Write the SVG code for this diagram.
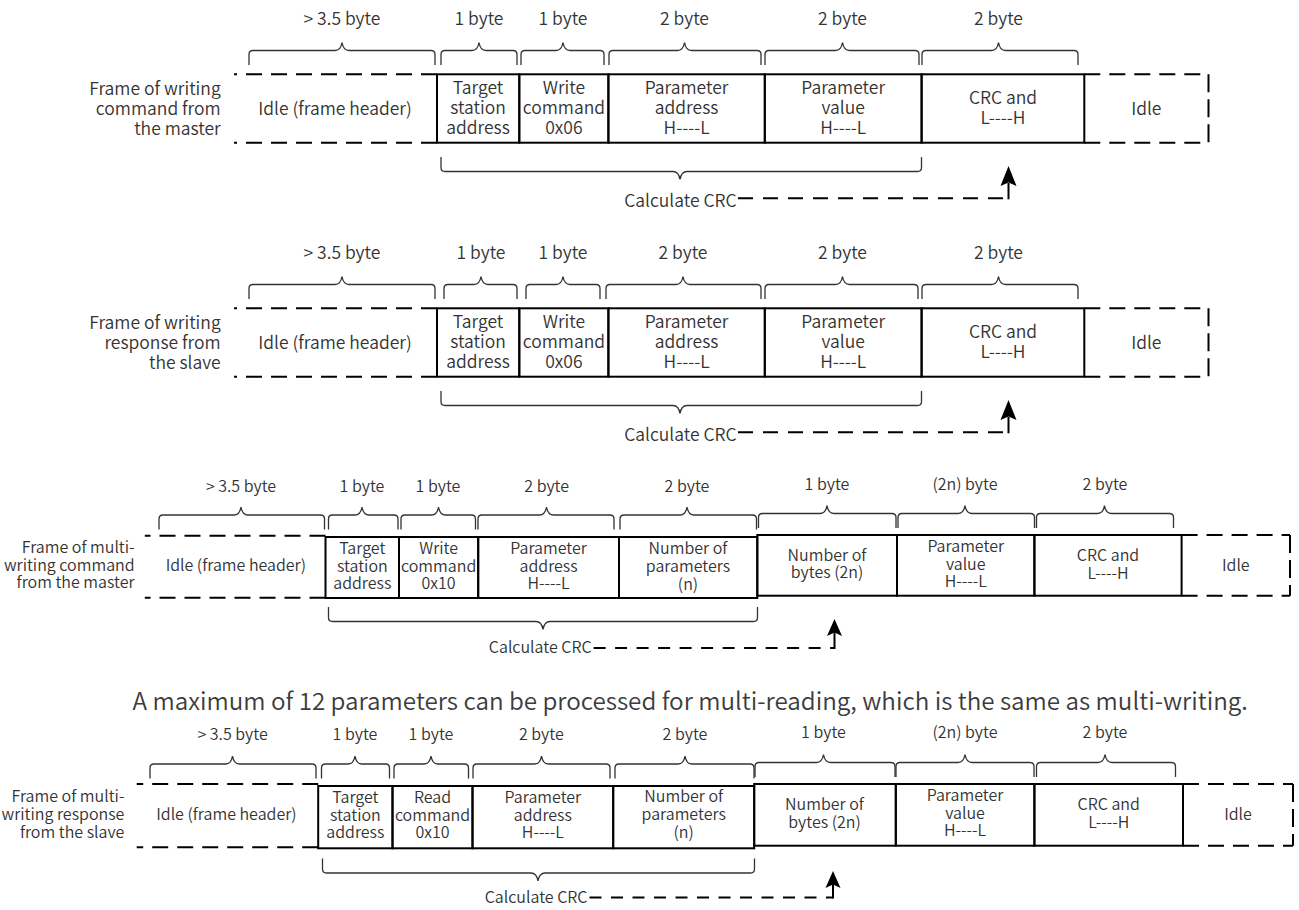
<svg xmlns="http://www.w3.org/2000/svg" width="1299" height="910" viewBox="0 0 1299 910">
<style>
text{font-family:"Noto Sans CJK SC","Noto Sans",sans-serif;fill:#333;font-weight:350}
.f1{font-size:17.5px}
.f3{font-size:16px}
.note{font-size:24.2px;fill:#3c3c3c}
.c{text-anchor:middle}
.r{text-anchor:end}
.box{fill:none;stroke:#000;stroke-width:2}
.dash{fill:none;stroke:#000;stroke-width:2;stroke-dasharray:16 9}
.vdash{fill:none;stroke:#000;stroke-width:2;stroke-dasharray:18 7}
.brace{fill:none;stroke:#333;stroke-width:1.3}
.calc{fill:none;stroke:#000;stroke-width:2;stroke-dasharray:15 10}
.calc3{fill:none;stroke:#000;stroke-width:2;stroke-dasharray:12 9.5}
.shaft{stroke:#000;stroke-width:2}
.head{fill:#000}
</style>

<!-- Frame 1 -->
<g id="frame1">
  <text class="f1 r"><tspan x="220.7" y="95">Frame of writing</tspan><tspan x="220.7" y="115">command from</tspan><tspan x="220.7" y="135">the master</tspan></text>
  <g id="f1-header">
    <path class="brace" d="M249,65 v-10.5 q0,-4 4,-4 h82 c4,0 6,-2 7,-8 c1,6 3,8 7,8 h82 q4,0 4,4 v10.5"/>
    <text class="f1 c" x="342" y="25">&gt; 3.5 byte</text>
    <path class="dash" d="M437,74.3 H234 M437,142.7 H234"/>
    <text class="f1 c" x="335" y="115">Idle (frame header)</text>
  </g>
  <g id="f1-target">
    <path class="brace" d="M441,65 v-10.5 q0,-4 4,-4 h27 c4,0 6,-2 7,-8 c1,6 3,8 7,8 h27 q4,0 4,4 v10.5"/>
    <text class="f1 c" x="479" y="25">1 byte</text>
    <rect class="box" x="437" y="74.3" width="82.3" height="68.4"/>
    <text class="f1 c"><tspan x="478" y="94">Target</tspan><tspan x="478" y="114.3">station</tspan><tspan x="478" y="134.3">address</tspan></text>
  </g>
  <g id="f1-write">
    <path class="brace" d="M521,65 v-10.5 q0,-4 4,-4 h31 c4,0 6,-2 7,-8 c1,6 3,8 7,8 h30 q4,0 4,4 v10.5"/>
    <text class="f1 c" x="563" y="25">1 byte</text>
    <rect class="box" x="519.3" y="74.3" width="89.1" height="68.4"/>
    <text class="f1 c"><tspan x="563.9" y="94">Write</tspan><tspan x="563.9" y="114.3">command</tspan><tspan x="563.9" y="134.3">0x06</tspan></text>
  </g>
  <g id="f1-paddr">
    <path class="brace" d="M609,65 v-10.5 q0,-4 4,-4 h64.5 c4,0 6,-2 7,-8 c1,6 3,8 7,8 h65.5 q4,0 4,4 v10.5"/>
    <text class="f1 c" x="684.5" y="25">2 byte</text>
    <rect class="box" x="608.4" y="74.3" width="156.4" height="68.4"/>
    <text class="f1 c"><tspan x="686.6" y="94">Parameter</tspan><tspan x="686.6" y="114.3">address</tspan><tspan x="686.6" y="134.3">H----L</tspan></text>
  </g>
  <g id="f1-pvalue">
    <path class="brace" d="M765,65 v-10.5 q0,-4 4,-4 h66.5 c4,0 6,-2 7,-8 c1,6 3,8 7,8 h65.5 q4,0 4,4 v10.5"/>
    <text class="f1 c" x="842.5" y="25">2 byte</text>
    <rect class="box" x="764.8" y="74.3" width="156.8" height="68.4"/>
    <text class="f1 c"><tspan x="843.2" y="94">Parameter</tspan><tspan x="843.2" y="114.3">value</tspan><tspan x="843.2" y="134.3">H----L</tspan></text>
  </g>
  <g id="f1-crc">
    <path class="brace" d="M922,65 v-10.5 q0,-4 4,-4 h65.5 c4,0 6,-2 7,-8 c1,6 3,8 7,8 h68.5 q4,0 4,4 v10.5"/>
    <text class="f1 c" x="998.5" y="25">2 byte</text>
    <rect class="box" x="921.6" y="74.3" width="162.7" height="68.4"/>
    <text class="f1 c"><tspan x="1003" y="104">CRC and</tspan><tspan x="1003" y="124">L----H</tspan></text>
  </g>
  <g id="f1-idle">
    <path class="dash" d="M1084.3,74.3 H1208.5 M1084.3,142.7 H1208.5"/>
    <path class="vdash" d="M1208.5,74.3 V142.7"/>
    <text class="f1 c" x="1146.3" y="115">Idle</text>
  </g>
  <g id="f1-calc">
    <path class="brace" d="M441,157 v10.5 q0,4 4,4 h228 c4,0 6,2 7,8 c1,-6 3,-8 7,-8 h230.5 q4,0 4,-4 v-10.5"/>
    <text class="f1 r" x="736.6" y="206.7">Calculate CRC</text>
  </g>
</g>

<!-- Frame 2 -->
<g id="frame2" transform="translate(0,234)">
  <text class="f1 r"><tspan x="220.7" y="95">Frame of writing</tspan><tspan x="220.7" y="115">response from</tspan><tspan x="220.7" y="135">the slave</tspan></text>
  <g id="f2-header">
    <path class="brace" d="M249,65 v-10.5 q0,-4 4,-4 h82 c4,0 6,-2 7,-8 c1,6 3,8 7,8 h82 q4,0 4,4 v10.5"/>
    <text class="f1 c" x="342" y="25">&gt; 3.5 byte</text>
    <path class="dash" d="M437,74.3 H234 M437,142.7 H234"/>
    <text class="f1 c" x="335" y="115">Idle (frame header)</text>
  </g>
  <g id="f2-target">
    <path class="brace" d="M444,65 v-10.5 q0,-4 4,-4 h26 c4,0 6,-2 7,-8 c1,6 3,8 7,8 h25 q4,0 4,4 v10.5"/>
    <text class="f1 c" x="481" y="25">1 byte</text>
    <rect class="box" x="437" y="74.3" width="82.3" height="68.4"/>
    <text class="f1 c"><tspan x="478" y="94">Target</tspan><tspan x="478" y="114.3">station</tspan><tspan x="478" y="134.3">address</tspan></text>
  </g>
  <g id="f2-write">
    <path class="brace" d="M526,65 v-10.5 q0,-4 4,-4 h26 c4,0 6,-2 7,-8 c1,6 3,8 7,8 h26 q4,0 4,4 v10.5"/>
    <text class="f1 c" x="563" y="25">1 byte</text>
    <rect class="box" x="519.3" y="74.3" width="89.1" height="68.4"/>
    <text class="f1 c"><tspan x="563.9" y="94">Write</tspan><tspan x="563.9" y="114.3">command</tspan><tspan x="563.9" y="134.3">0x06</tspan></text>
  </g>
  <g id="f2-paddr">
    <path class="brace" d="M606,65 v-10.5 q0,-4 4,-4 h66 c4,0 6,-2 7,-8 c1,6 3,8 7,8 h67 q4,0 4,4 v10.5"/>
    <text class="f1 c" x="683" y="25">2 byte</text>
    <rect class="box" x="608.4" y="74.3" width="156.4" height="68.4"/>
    <text class="f1 c"><tspan x="686.6" y="94">Parameter</tspan><tspan x="686.6" y="114.3">address</tspan><tspan x="686.6" y="134.3">H----L</tspan></text>
  </g>
  <g id="f2-pvalue">
    <path class="brace" d="M765,65 v-10.5 q0,-4 4,-4 h66.5 c4,0 6,-2 7,-8 c1,6 3,8 7,8 h64.5 q4,0 4,4 v10.5"/>
    <text class="f1 c" x="842.5" y="25">2 byte</text>
    <rect class="box" x="764.8" y="74.3" width="156.8" height="68.4"/>
    <text class="f1 c"><tspan x="843.2" y="94">Parameter</tspan><tspan x="843.2" y="114.3">value</tspan><tspan x="843.2" y="134.3">H----L</tspan></text>
  </g>
  <g id="f2-crc">
    <path class="brace" d="M922,65 v-10.5 q0,-4 4,-4 h65.5 c4,0 6,-2 7,-8 c1,6 3,8 7,8 h68.5 q4,0 4,4 v10.5"/>
    <text class="f1 c" x="998.5" y="25">2 byte</text>
    <rect class="box" x="921.6" y="74.3" width="162.7" height="68.4"/>
    <text class="f1 c"><tspan x="1003" y="104">CRC and</tspan><tspan x="1003" y="124">L----H</tspan></text>
  </g>
  <g id="f2-idle">
    <path class="dash" d="M1084.3,74.3 H1208.5 M1084.3,142.7 H1208.5"/>
    <path class="vdash" d="M1208.5,74.3 V142.7"/>
    <text class="f1 c" x="1146.3" y="115">Idle</text>
  </g>
  <g id="f2-calc">
    <path class="brace" d="M441,157 v10.5 q0,4 4,4 h228 c4,0 6,2 7,8 c1,-6 3,-8 7,-8 h230.5 q4,0 4,-4 v-10.5"/>
    <text class="f1 r" x="736.6" y="206.7">Calculate CRC</text>
  </g>
</g>

<!-- Frame 3 -->
<g id="frame3">
  <text class="f3 r"><tspan x="134.6" y="553.3">Frame of multi-</tspan><tspan x="134.6" y="570.7">writing command</tspan><tspan x="134.6" y="588.3">from the master</tspan></text>
  <g id="f3-header">
    <path class="brace" d="M159,529.5 v-10.5 q0,-4 4,-4 h71 c4,0 6,-2 7,-8 c1,6 3,8 7,8 h72.5 q4,0 4,4 v10.5"/>
    <text class="f3 c" x="241" y="491.7">&gt; 3.5 byte</text>
    <path class="dash" d="M325.5,535.7 H144.8 M325.5,597.7 H144.8"/>
    <text class="f3 c" x="235.8" y="570.7">Idle (frame header)</text>
  </g>
  <g id="f3-target">
    <path class="brace" d="M328.5,529.5 v-10.5 q0,-4 4,-4 h22.5 c4,0 6,-2 7,-8 c1,6 3,8 7,8 h25 q4,0 4,4 v10.5"/>
    <text class="f3 c" x="362" y="491.7">1 byte</text>
    <rect class="box" x="325.5" y="537" width="73.5" height="61"/>
    <text class="f3 c"><tspan x="362.3" y="554">Target</tspan><tspan x="362.3" y="571.5">station</tspan><tspan x="362.3" y="589">address</tspan></text>
  </g>
  <g id="f3-write">
    <path class="brace" d="M401,529.5 v-10.5 q0,-4 4,-4 h26.5 c4,0 6,-2 7,-8 c1,6 3,8 7,8 h26 q4,0 4,4 v10.5"/>
    <text class="f3 c" x="438" y="491.7">1 byte</text>
    <rect class="box" x="399" y="537" width="79.2" height="61"/>
    <text class="f3 c"><tspan x="438.6" y="554">Write</tspan><tspan x="438.6" y="571.5">command</tspan><tspan x="438.6" y="589">0x10</tspan></text>
  </g>
  <g id="f3-paddr">
    <path class="brace" d="M478,529.5 v-10.5 q0,-4 4,-4 h57.5 c4,0 6,-2 7,-8 c1,6 3,8 7,8 h56.5 q4,0 4,4 v10.5"/>
    <text class="f3 c" x="546.7" y="491.7">2 byte</text>
    <rect class="box" x="478.2" y="537" width="140.8" height="61"/>
    <text class="f3 c"><tspan x="548.6" y="554">Parameter</tspan><tspan x="548.6" y="571.5">address</tspan><tspan x="548.6" y="589">H----L</tspan></text>
  </g>
  <g id="f3-nparams">
    <path class="brace" d="M620,529.5 v-10.5 q0,-4 4,-4 h56 c4,0 6,-2 7,-8 c1,6 3,8 7,8 h58.5 q4,0 4,4 v10.5"/>
    <text class="f3 c" x="687" y="491.7">2 byte</text>
    <rect class="box" x="619" y="537" width="138.3" height="61"/>
    <text class="f3 c"><tspan x="688" y="554">Number of</tspan><tspan x="688" y="571.5">parameters</tspan><tspan x="688" y="589.5">(n)</tspan></text>
  </g>
  <g id="f3-nbytes">
    <path class="brace" d="M758.5,528 v-10.5 q0,-4 4,-4 h57.5 c4,0 6,-2 7,-8 c1,6 3,8 7,8 h58 q4,0 4,4 v10.5"/>
    <text class="f3 c" x="827" y="490">1 byte</text>
    <rect class="box" x="757.3" y="535" width="139.7" height="60.7"/>
    <text class="f3 c"><tspan x="827" y="561">Number of</tspan><tspan x="827" y="578">bytes (2n)</tspan></text>
  </g>
  <g id="f3-pvalue">
    <path class="brace" d="M898,528 v-10.5 q0,-4 4,-4 h56 c4,0 6,-2 7,-8 c1,6 3,8 7,8 h58.5 q4,0 4,4 v10.5"/>
    <text class="f3 c" x="965" y="490">(2n) byte</text>
    <rect class="box" x="897" y="535" width="137.4" height="60.7"/>
    <text class="f3 c"><tspan x="965.7" y="552">Parameter</tspan><tspan x="965.7" y="569.5">value</tspan><tspan x="965.7" y="587">H----L</tspan></text>
  </g>
  <g id="f3-crc">
    <path class="brace" d="M1036.5,528 v-10.5 q0,-4 4,-4 h57 c4,0 6,-2 7,-8 c1,6 3,8 7,8 h58 q4,0 4,4 v10.5"/>
    <text class="f3 c" x="1105" y="490">2 byte</text>
    <rect class="box" x="1034.4" y="535" width="147.2" height="60.7"/>
    <text class="f3 c"><tspan x="1108" y="561">CRC and</tspan><tspan x="1108" y="579">L----H</tspan></text>
  </g>
  <g id="f3-idle">
    <path class="dash" d="M1181.6,535 H1290 M1181.6,595.7 H1290"/>
    <path class="vdash" d="M1290,535 V595.7"/>
    <text class="f3 c" x="1235.8" y="570.7">Idle</text>
  </g>
  <g id="f3-calc">
    <path class="brace" d="M328.5,607 v10.5 q0,4 4,4 h203.5 c4,0 6,2 7,8 c1,-6 3,-8 7,-8 h203.5 q4,0 4,-4 v-10.5"/>
    <text class="f3 r" x="591.6" y="653.3">Calculate CRC</text>
  </g>
</g>

<text id="note" class="note" x="132.6" y="710">A maximum of 12 parameters can be processed for multi-reading, which is the same as multi-writing.</text>

<!-- Frame 4 -->
<g id="frame4">
  <text class="f3 r"><tspan x="124.4" y="801.7">Frame of multi-</tspan><tspan x="124.4" y="820">writing response</tspan><tspan x="124.4" y="837.7">from the slave</tspan></text>
  <g id="f4-header">
    <path class="brace" d="M150,778.5 v-10.5 q0,-4 4,-4 h71.5 c4,0 6,-2 7,-8 c1,6 3,8 7,8 h72.5 q4,0 4,4 v10.5"/>
    <text class="f3 c" x="232.6" y="740">&gt; 3.5 byte</text>
    <path class="dash" d="M318.2,784 H136.7 M318.2,847.3 H136.7"/>
    <text class="f3 c" x="226.4" y="820">Idle (frame header)</text>
  </g>
  <g id="f4-target">
    <path class="brace" d="M321.5,778.5 v-10.5 q0,-4 4,-4 h22.5 c4,0 6,-2 7,-8 c1,6 3,8 7,8 h23.5 q4,0 4,4 v10.5"/>
    <text class="f3 c" x="355" y="740">1 byte</text>
    <rect class="box" x="318.2" y="786" width="74.3" height="62.3"/>
    <text class="f3 c"><tspan x="355.4" y="803">Target</tspan><tspan x="355.4" y="820.5">station</tspan><tspan x="355.4" y="838">address</tspan></text>
  </g>
  <g id="f4-read">
    <path class="brace" d="M394,778.5 v-10.5 q0,-4 4,-4 h26 c4,0 6,-2 7,-8 c1,6 3,8 7,8 h26.5 q4,0 4,4 v10.5"/>
    <text class="f3 c" x="431" y="740">1 byte</text>
    <rect class="box" x="392.5" y="786" width="80" height="62.3"/>
    <text class="f3 c"><tspan x="432.5" y="803">Read</tspan><tspan x="432.5" y="820.5">command</tspan><tspan x="432.5" y="838">0x10</tspan></text>
  </g>
  <g id="f4-paddr">
    <path class="brace" d="M473,778.5 v-10.5 q0,-4 4,-4 h57.5 c4,0 6,-2 7,-8 c1,6 3,8 7,8 h57.5 q4,0 4,4 v10.5"/>
    <text class="f3 c" x="541.4" y="740">2 byte</text>
    <rect class="box" x="472.5" y="786" width="140.7" height="62.3"/>
    <text class="f3 c"><tspan x="542.9" y="803">Parameter</tspan><tspan x="542.9" y="820.5">address</tspan><tspan x="542.9" y="838">H----L</tspan></text>
  </g>
  <g id="f4-nparams">
    <path class="brace" d="M615,778.5 v-10.5 q0,-4 4,-4 h59 c4,0 6,-2 7,-8 c1,6 3,8 7,8 h58 q4,0 4,4 v10.5"/>
    <text class="f3 c" x="685" y="740">2 byte</text>
    <rect class="box" x="613.2" y="786" width="141" height="62.3"/>
    <text class="f3 c"><tspan x="683.7" y="802">Number of</tspan><tspan x="683.7" y="819.5">parameters</tspan><tspan x="683.7" y="838">(n)</tspan></text>
  </g>
  <g id="f4-nbytes">
    <path class="brace" d="M755,777 v-10.5 q0,-4 4,-4 h57.5 c4,0 6,-2 7,-8 c1,6 3,8 7,8 h60.5 q4,0 4,4 v10.5"/>
    <text class="f3 c" x="823.5" y="738.3">1 byte</text>
    <rect class="box" x="754.2" y="784" width="141.6" height="61.7"/>
    <text class="f3 c"><tspan x="824.5" y="810">Number of</tspan><tspan x="824.5" y="828">bytes (2n)</tspan></text>
  </g>
  <g id="f4-pvalue">
    <path class="brace" d="M896,777 v-10.5 q0,-4 4,-4 h58 c4,0 6,-2 7,-8 c1,6 3,8 7,8 h58 q4,0 4,4 v10.5"/>
    <text class="f3 c" x="965" y="738.3">(2n) byte</text>
    <rect class="box" x="895.8" y="784" width="138.6" height="61.7"/>
    <text class="f3 c"><tspan x="965" y="801">Parameter</tspan><tspan x="965" y="818.5">value</tspan><tspan x="965" y="836">H----L</tspan></text>
  </g>
  <g id="f4-crc">
    <path class="brace" d="M1036.5,777 v-10.5 q0,-4 4,-4 h57.5 c4,0 6,-2 7,-8 c1,6 3,8 7,8 h59.5 q4,0 4,4 v10.5"/>
    <text class="f3 c" x="1105" y="738.3">2 byte</text>
    <rect class="box" x="1034.4" y="784" width="148.6" height="61.7"/>
    <text class="f3 c"><tspan x="1108.7" y="810">CRC and</tspan><tspan x="1108.7" y="828">L----H</tspan></text>
  </g>
  <g id="f4-idle">
    <path class="dash" d="M1183,784 H1293 M1183,845.7 H1293"/>
    <path class="vdash" d="M1293,784 V845.7"/>
    <text class="f3 c" x="1238" y="820">Idle</text>
  </g>
  <g id="f4-calc">
    <path class="brace" d="M322.5,858.5 v10.5 q0,4 4,4 h204.5 c4,0 6,2 7,8 c1,-6 3,-8 7,-8 h205.5 q4,0 4,-4 v-10.5"/>
    <text class="f3 r" x="587.5" y="903.3">Calculate CRC</text>
  </g>
</g>

<!-- Connectors: Calculate CRC -> CRC field -->
<g id="connectors">
  <path class="calc" d="M738,198.3 H1008.5"/>
  <line class="shaft" x1="1008.5" y1="199.3" x2="1008.5" y2="183"/>
  <polygon class="head" points="1008.5,166 1000.5,186 1008.5,182.5 1016.5,186"/>

  <path class="calc" d="M738,432.3 H1008.5"/>
  <line class="shaft" x1="1008.5" y1="433.3" x2="1008.5" y2="417"/>
  <polygon class="head" points="1008.5,400 1000.5,420 1008.5,416.5 1016.5,420"/>

  <path class="calc3" d="M593.6,648 H834.5"/>
  <line class="shaft" x1="834.5" y1="649" x2="834.5" y2="632"/>
  <polygon class="head" points="834.5,619 827,636 834.5,632.5 842,636"/>

  <path class="calc3" d="M589.5,897.5 H833"/>
  <line class="shaft" x1="833" y1="898.5" x2="833" y2="884"/>
  <polygon class="head" points="833,871 825.5,888 833,884.5 840.5,888"/>
</g>
</svg>
